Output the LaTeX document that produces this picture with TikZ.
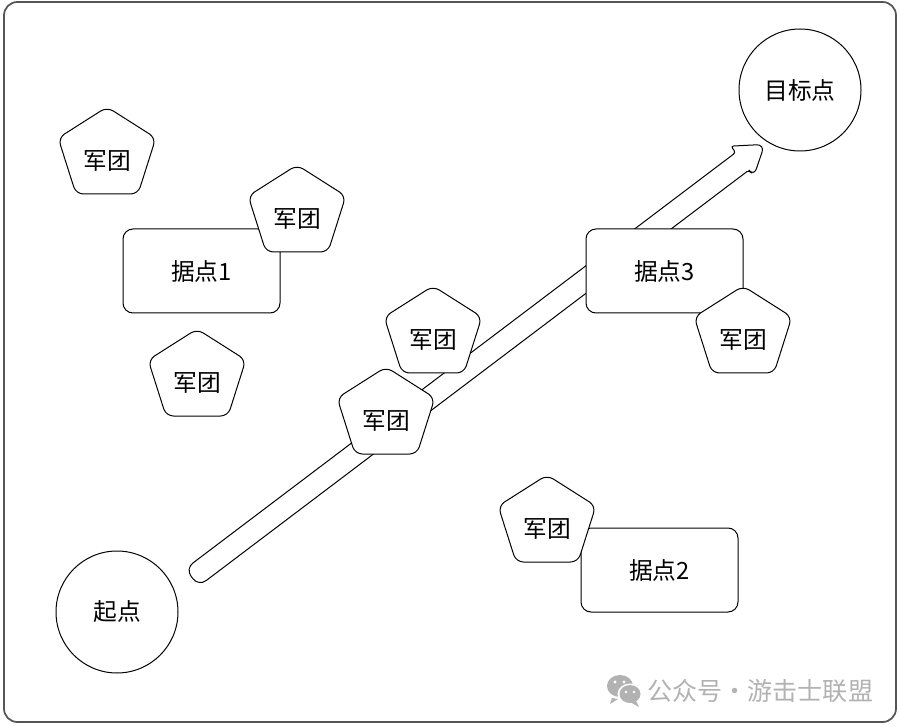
\documentclass[tikz,border=0pt]{standalone}
\usepackage{fontspec}
\setmainfont{Noto Sans CJK SC}
\usetikzlibrary{shapes.geometric}
\definecolor{cadre}{HTML}{555555}
\definecolor{filigrane}{HTML}{B2B2B2}
\begin{document}
\begin{tikzpicture}[x=0.75pt,y=-0.75pt]
	\tikzstyle{armee}=[draw,fill=white,rounded corners=5.5pt,line width=0.75pt]
	\tikzstyle{etiquette}=[inner sep=0pt,font=\fontsize{17.8}{20}\selectfont]
	\tikzstyle{bastion}=[draw,fill=white,rectangle,minimum width=117.75pt,minimum height=63pt,rounded corners=7.5pt,line width=0.75pt,font=\fontsize{17.8}{20}\selectfont]
	\tikzstyle{cercle}=[draw,fill=white,circle,minimum size=91.5pt,inner sep=0pt,line width=0.75pt,font=\fontsize{17.8}{20}\selectfont]
	\tikzstyle{fleche}=[draw,fill=white,line width=0.75pt]
	\useasboundingbox (0,0) rectangle (900,727);
	\fill[white] (0,0) rectangle (900,727);
	\draw[cadre,line width=1.3pt,rounded corners=10pt] (4,2) rectangle (896,722);
	% la grande fleche passe sous le reste
	\begin{scope}[shift={(192,577.5)},rotate=37.1]
		\draw[fleche] (100,-11) [rounded corners=2pt] -- (690,-11) -- (690,-19) [rounded corners=6pt] -- (718,0) -- (690,19) [rounded corners=2pt] -- (690,11) [rounded corners=7pt] -- (0,11) -- (0,-11) -- cycle;
	\end{scope}
	\node[cercle] (Depart) at (117,612) {起点};
	\node[cercle] (Cible) at (800,90) {目标点};
	\node[bastion] (Ba) at (201.5,271) {据点1};
	\node[bastion] (Bb) at (659.5,570) {据点2};
	\node[bastion] (Bc) at (664.5,271) {据点3};
	\foreach \nom/\x/\y in {Aa/107/160,Ab/297/218,Ac/197/382,Ad/433/339,Ae/386/420,Af/743/339,Ag/547/528} {
		\draw[armee] ({\x},{\y-53}) -- ({\x+48.8},{\y-22}) -- ({\x+31},{\y+34}) -- ({\x-31},{\y+34}) -- ({\x-48.8},{\y-22}) -- cycle;
		\node[etiquette] (\nom) at (\x,\y+0.8) {军团};
	}
	% filigrane
	\fill[filigrane] (620,686) ellipse (13 and 11);
	\fill[filigrane] (612,698) -- (610,704) -- (618,699) -- cycle;
	\fill[white] (630,694) ellipse (12.5 and 10.5);
	\fill[filigrane] (630,694) ellipse (10.5 and 9);
	\fill[filigrane] (636,701) -- (639,707) -- (630,702) -- cycle;
	\fill[white] (615,682) circle (1.6) (624,682) circle (1.6) (626,692) circle (1.3) (634,692) circle (1.3);
	\node[text=filigrane,anchor=west,inner sep=0pt,font=\fontsize{18.8}{20}\selectfont] (Filigrane) at (647,691) {\spaceskip=0.1pt 公众号 · 游击士联盟};
\end{tikzpicture}
\end{document}
